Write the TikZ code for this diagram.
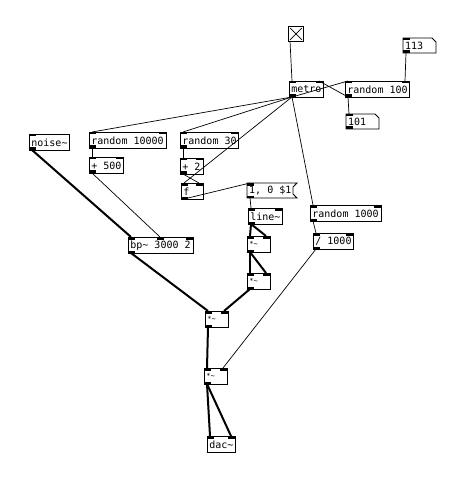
\documentclass[tikz,border=0pt]{standalone}
\usepackage{fontspec}
\setmonofont{DejaVu Sans Mono}
\usetikzlibrary{calc}
\newcommand{\pdobj}[8][\fontsize{10}{10}\selectfont]{% [font] name, x, y, w, text, nin, nout
  \node[obj, minimum width=#5pt] (#2) at (#3,#4) {\makebox[\dimexpr#5pt-4pt\relax][l]{#1#6}};
  \foreach \k in {1,...,#7}{%
    \pgfmathsetmacro\ox{#3+(\k-1)*(#5-7)/max(#7-1,1)}%
    \fill (\ox,#4) rectangle ++(7,2.5);
    \coordinate (#2-i\k) at (\ox+3,#4);
  }
  \ifnum#8>0
    \fill (#3,#4+13.5) rectangle ++(7,2.5);
    \coordinate (#2-o) at (#3+3,#4+16);
  \fi
}
\newcommand{\smallmul}{\fontsize{7}{7}\selectfont\raisebox{1.5pt}}
\begin{document}
\begin{tikzpicture}[x=1pt,y=-1pt,
  obj/.style={draw, line width=0.8pt, inner xsep=2pt, inner ysep=0pt, minimum height=16pt,
    anchor=north west, font=\ttfamily, fill=white},
  txt/.style={inner xsep=2pt, inner ysep=0pt, minimum height=16pt, anchor=north west,
    font=\ttfamily\fontsize{10}{10}\selectfont},
  outline/.style={draw, line width=0.8pt, fill=white},
  ctl/.style={line width=0.7pt},
  sig/.style={line width=2pt}]
\useasboundingbox[fill=white] (0,0) rectangle (471,494);

% toggle
\node[draw, line width=0.8pt, minimum size=15pt, inner sep=0pt, anchor=north west] (tgl) at (288,26) {};
\draw[line width=0.7pt] ($(tgl.north west)+(2,2)$) -- ($(tgl.south east)+(-2,-2)$);
\draw[line width=0.7pt] ($(tgl.north east)+(-2,2)$) -- ($(tgl.south west)+(2,-2)$);
\coordinate (tgl-o) at (290,41);

% objects
\pdobj{metro}{289}{81}{34}{metro}{2}{1}
\pdobj{r100}{345}{81}{64}{random 100}{2}{1}
\pdobj{noise}{29}{134}{40}{noise\textasciitilde}{1}{1}
\pdobj{r10000}{89}{132}{77}{random 10000}{2}{1}
\pdobj{p500}{89}{157}{34}{+ 500}{2}{1}
\pdobj{r30}{180}{132}{58}{random 30}{2}{1}
\pdobj{p2}{180}{158}{23}{+ 2}{2}{1}
\pdobj{f}{181}{183}{22}{f}{2}{1}
\pdobj{line}{248}{208}{34}{line\textasciitilde}{2}{1}
\pdobj{r1000}{310}{205}{71}{random 1000}{2}{1}
\pdobj{div}{313}{233}{40}{/ 1000}{2}{1}
\pdobj[\smallmul]{ma}{247}{236}{23}{{*\textasciitilde}}{2}{1}
\pdobj[\smallmul]{mb}{247}{273}{23}{{*\textasciitilde}}{2}{1}
\pdobj{bp}{128}{237}{65}{bp\textasciitilde{} 3000 2}{3}{1}
\pdobj[\smallmul]{mc}{205}{311}{23}{{*\textasciitilde}}{2}{1}
\pdobj[\smallmul]{md}{204}{368}{23}{{*\textasciitilde}}{2}{1}
\pdobj{dac}{207}{436}{28}{dac\textasciitilde}{2}{0}

% number atoms
\draw[outline] (403,38) -- (432,38) -- (436,42) -- (436,53) -- (403,53) -- cycle;
\node[txt, minimum height=15pt] (n113) at (403,38) {113};
\fill (403,38) rectangle ++(7,2.5);
\fill (403,50.5) rectangle ++(7,2.5);
\coordinate (n113-o) at (406,53);
\draw[outline] (346,114) -- (375,114) -- (379,118) -- (379,129) -- (346,129) -- cycle;
\node[txt, minimum height=15pt] (n101) at (346,114) {101};
\fill (346,114) rectangle ++(7,2.5);
\fill (346,126.5) rectangle ++(7,2.5);
\coordinate (n101-i1) at (349,114);

% message box
\draw[outline] (247,183) -- (297,183) -- (293,187) -- (293,194) -- (297,198) -- (247,198) -- cycle;
\node[txt, minimum height=15pt] (msg) at (247,183) {1, 0 \$1};
\fill (247,183) rectangle ++(7,2.5);
\fill (247,195.5) rectangle ++(7,2.5);
\coordinate (msg-i1) at (250,183);
\coordinate (msg-o) at (250,198);

% control connections
\draw[ctl] (tgl-o) -- (metro-i1);
\draw[ctl] (metro-o) -- (r10000-i1);
\draw[ctl] (metro-o) -- (r30-i1);
\draw[ctl] (metro-o) -- (f-i1);
\draw[ctl] (metro-o) -- (r100-i1);
\draw[ctl] (metro-o) -- (r1000-i1);
\draw[ctl] (r100-o) -- (metro-i2);
\draw[ctl] (r100-o) -- (n101-i1);
\draw[ctl] (n113-o) -- (r100-i2);
\draw[ctl] (r10000-o) -- (p500-i1);
\draw[ctl] (r30-o) -- (p2-i1);
\draw[ctl] (p2-o) -- (f-i2);
\draw[ctl] (p500-o) -- (bp-i2);
\draw[ctl] (f-o) -- (msg-i1);
\draw[ctl] (msg-o) -- (line-i1);
\draw[ctl] (r1000-o) -- (div-i1);
\draw[ctl] (div-o) -- (md-i2);

% signal connections
\draw[sig] (noise-o) -- (bp-i1);
\draw[sig] (line-o) -- (ma-i1);
\draw[sig] (line-o) -- (ma-i2);
\draw[sig] (ma-o) -- (mb-i1);
\draw[sig] (ma-o) -- (mb-i2);
\draw[sig] (mb-o) -- (mc-i2);
\draw[sig] (bp-o) -- (mc-i1);
\draw[sig] (mc-o) -- (md-i1);
\draw[sig] (md-o) -- (dac-i1);
\draw[sig] (md-o) -- (dac-i2);
\end{tikzpicture}
\end{document}
